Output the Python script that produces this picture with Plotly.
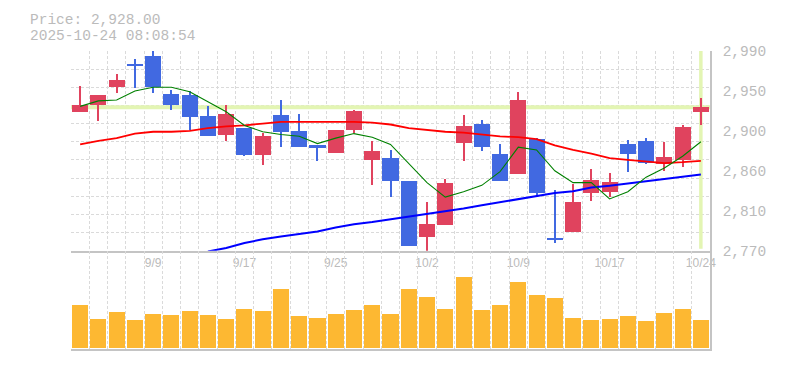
import plotly.graph_objects as go

# ---------------- data ----------------
dates = ["9/3", "9/4", "9/5", "9/8", "9/9", "9/10", "9/11", "9/12", "9/16", "9/17",
         "9/18", "9/19", "9/22", "9/24", "9/25", "9/26", "9/29", "9/30", "10/1", "10/2",
         "10/3", "10/6", "10/7", "10/8", "10/9", "10/10", "10/14", "10/15", "10/16", "10/17",
         "10/20", "10/21", "10/22", "10/23", "10/24"]

open_ = [2923, 2930, 2950, 2976, 2985, 2943, 2941, 2918, 2897, 2905,
         2875, 2919, 2902, 2886, 2878, 2903, 2870, 2872, 2847, 2785,
         2798, 2889, 2910, 2876, 2855, 2893, 2784, 2791, 2834, 2835,
         2888, 2891, 2866, 2870, 2923]
high = [2951, 2941, 2965, 2981, 2990, 2947, 2946, 2929, 2930, 2905,
        2900, 2936, 2921, 2886, 2903, 2925, 2891, 2881, 2847, 2824,
        2849, 2920, 2914, 2888, 2945, 2894, 2837, 2844, 2860, 2856,
        2892, 2894, 2890, 2908, 2938]
low = [2923, 2913, 2944, 2949, 2944, 2925, 2903, 2896, 2891, 2874,
       2864, 2884, 2884, 2869, 2878, 2900, 2842, 2829, 2775, 2770,
       2798, 2869, 2880, 2847, 2855, 2829, 2778, 2791, 2825, 2829,
       2857, 2865, 2858, 2862, 2908]
close = [2931, 2941, 2958, 2973, 2950, 2930, 2917, 2896, 2921, 2875,
         2896, 2901, 2884, 2883, 2903, 2924, 2880, 2847, 2775, 2799,
         2845, 2907, 2884, 2847, 2936, 2834, 2782, 2824, 2848, 2846,
         2876, 2867, 2873, 2906, 2928]

ma5 = [2929, 2935, 2936, 2946, 2950, 2950, 2945, 2934, 2923, 2908,
       2901, 2898, 2896, 2888, 2894, 2899, 2895, 2887, 2866, 2845,
       2829, 2835, 2842, 2857, 2884, 2881, 2858, 2845, 2845, 2827,
       2835, 2851, 2861, 2874, 2890]
ma25 = [2887, 2891, 2894, 2899, 2901, 2901, 2902, 2905, 2907, 2908,
        2910, 2912, 2912, 2912, 2912, 2912, 2911, 2909, 2905, 2903,
        2901, 2900, 2898, 2896, 2895, 2893, 2886, 2881, 2877, 2872,
        2870, 2868, 2866.5, 2867.5, 2869]
ma75 = [None, None, None, None, None, None, None, 2769, 2773, 2778.5,
        2782.5, 2785.5, 2788, 2791, 2795.5, 2799, 2801.5, 2804.5, 2807, 2810,
        2813, 2816.5, 2820, 2823.5, 2827, 2830, 2833.5, 2835.5, 2839.5, 2841.5,
        2844, 2846.5, 2849, 2851.5, 2854]

volume = [128000, 86000, 107000, 83000, 101000, 98000, 110000, 98000, 86000, 116000,
          110000, 176000, 95000, 89000, 101000, 113000, 128000, 101000, 176000, 152000,
          116000, 212000, 113000, 128000, 197000, 158000, 149000, 89000, 83000, 86000,
          95000, 80000, 104000, 116000, 83000]

price_range = [2770, 2990]
price_tickvals = [2770, 2814, 2858, 2902, 2946, 2990]
price_ticktext = ["2,770", "2,810", "2,860", "2,900", "2,950", "2,990"]
price_grid_step = 20
date_tick_idx = [4, 9, 14, 19, 24, 29, 34]
volume_range = [-3900, 291000]

title_price = "Price: 2,928.00"
title_time = "2025-10-24 08:08:54"

# ---------------- styles ----------------
UP = "#E0435E"
DOWN = "#4169E1"
VOL = "#FDB832"
GRID = "#DADADA"
AXIS = "#C4C4C4"
TXT = "#BBBBBB"
HL = "#E3F5B3"
MONO = "Liberation Mono, DejaVu Sans Mono, monospace"
SANS = "Liberation Sans, Arial, sans-serif"

n = len(dates)
x = list(range(n))
colors = [UP if c >= o else DOWN for o, c in zip(open_, close)]
body_base = [min(o, c) for o, c in zip(open_, close)]
body_h = [max(abs(c - o), 1.6) for o, c in zip(open_, close)]
wick_h = [h - l for h, l in zip(high, low)]

fig = go.Figure()

# moving averages
fig.add_trace(go.Scatter(x=x, y=ma75, mode="lines", line=dict(color="#0000FF", width=2),
                         xaxis="x", yaxis="y", hoverinfo="skip"))
fig.add_trace(go.Scatter(x=x, y=ma25, mode="lines", line=dict(color="#FF0000", width=1.8),
                         xaxis="x", yaxis="y", hoverinfo="skip"))
fig.add_trace(go.Scatter(x=x, y=ma5, mode="lines", line=dict(color="#008000", width=1.1),
                         xaxis="x", yaxis="y", hoverinfo="skip"))

# candle wicks and bodies
fig.add_trace(go.Bar(x=x, y=wick_h, base=low, width=0.11, marker=dict(color=colors, line=dict(width=0)),
                     xaxis="x", yaxis="y", hoverinfo="skip"))
fig.add_trace(go.Bar(x=x, y=body_h, base=body_base, width=0.88, marker=dict(color=colors, line=dict(width=0)),
                     xaxis="x", yaxis="y", hoverinfo="skip"))

# volume
fig.add_trace(go.Bar(x=x, y=volume, width=0.88, marker=dict(color=VOL, line=dict(width=0)),
                     xaxis="x2", yaxis="y2", hoverinfo="skip"))

grid_x = [i - 0.5 for i in range(n + 1)]
grid_y = list(range(price_range[0], price_range[1] + 1, price_grid_step))

common_x = dict(range=[-0.5, n - 0.5], showgrid=False, zeroline=False, showline=True,
                linecolor=AXIS, linewidth=1.5, ticks="", fixedrange=True, automargin=False,
                minor=dict(tickvals=grid_x, showgrid=True, gridcolor=GRID, gridwidth=1,
                           griddash="3px,2px", ticks=""))

# the page body has an 8px margin: size the figure so the plot lands where the reference has it
fig.update_layout(
    width=769, height=354,
    margin=dict(l=63, r=67, t=43, b=13, autoexpand=False),
    paper_bgcolor="white", plot_bgcolor="white",
    showlegend=False, barmode="overlay", bargap=0,
    xaxis=dict(domain=[0, 1], anchor="y", tickvals=date_tick_idx,
               ticktext=[dates[i] for i in date_tick_idx],
               tickfont=dict(family=SANS, size=12, color=TXT),
               **common_x),
    yaxis=dict(domain=[0.33, 1], anchor="x", range=price_range, side="right",
               tickvals=price_tickvals, ticktext=price_ticktext,
               tickfont=dict(family=MONO, size=14.5, color=TXT),
               showgrid=False, zeroline=False, showline=True, linecolor=AXIS, linewidth=1.5,
               ticks="outside", ticklen=8, tickcolor="rgba(0,0,0,0)", fixedrange=True,
               automargin=False,
               minor=dict(tickvals=grid_y, showgrid=True, gridcolor=GRID, gridwidth=1,
                          griddash="3px,2px", ticks="")),
    xaxis2=dict(domain=[0, 1], anchor="y2", matches="x", showticklabels=False, **common_x),
    yaxis2=dict(domain=[0, 0.33], anchor="x2", range=volume_range, side="right",
                showticklabels=False, showgrid=False, zeroline=False, showline=True,
                linecolor=AXIS, linewidth=1.5, ticks="", fixedrange=True, automargin=False),
    shapes=[
        dict(type="line", xref="x", yref="y", x0=-0.5, x1=n - 0.5, y0=close[-1], y1=close[-1],
             line=dict(color=HL, width=4), layer="between"),
        dict(type="line", xref="x", yref="y", x0=n - 1, x1=n - 1,
             y0=price_range[0] + 2, y1=price_range[1],
             line=dict(color=HL, width=3.5), layer="between"),
    ],
    annotations=[
        dict(text=title_price, xref="paper", yref="paper", x=-0.0672, y=1.104,
             xanchor="left", yanchor="middle", showarrow=False,
             font=dict(family=MONO, size=14.5, color=TXT)),
        dict(text=title_time, xref="paper", yref="paper", x=-0.0672, y=1.0487,
             xanchor="left", yanchor="middle", showarrow=False,
             font=dict(family=MONO, size=14.5, color=TXT)),
    ],
)

fig.write_html("out.html")
